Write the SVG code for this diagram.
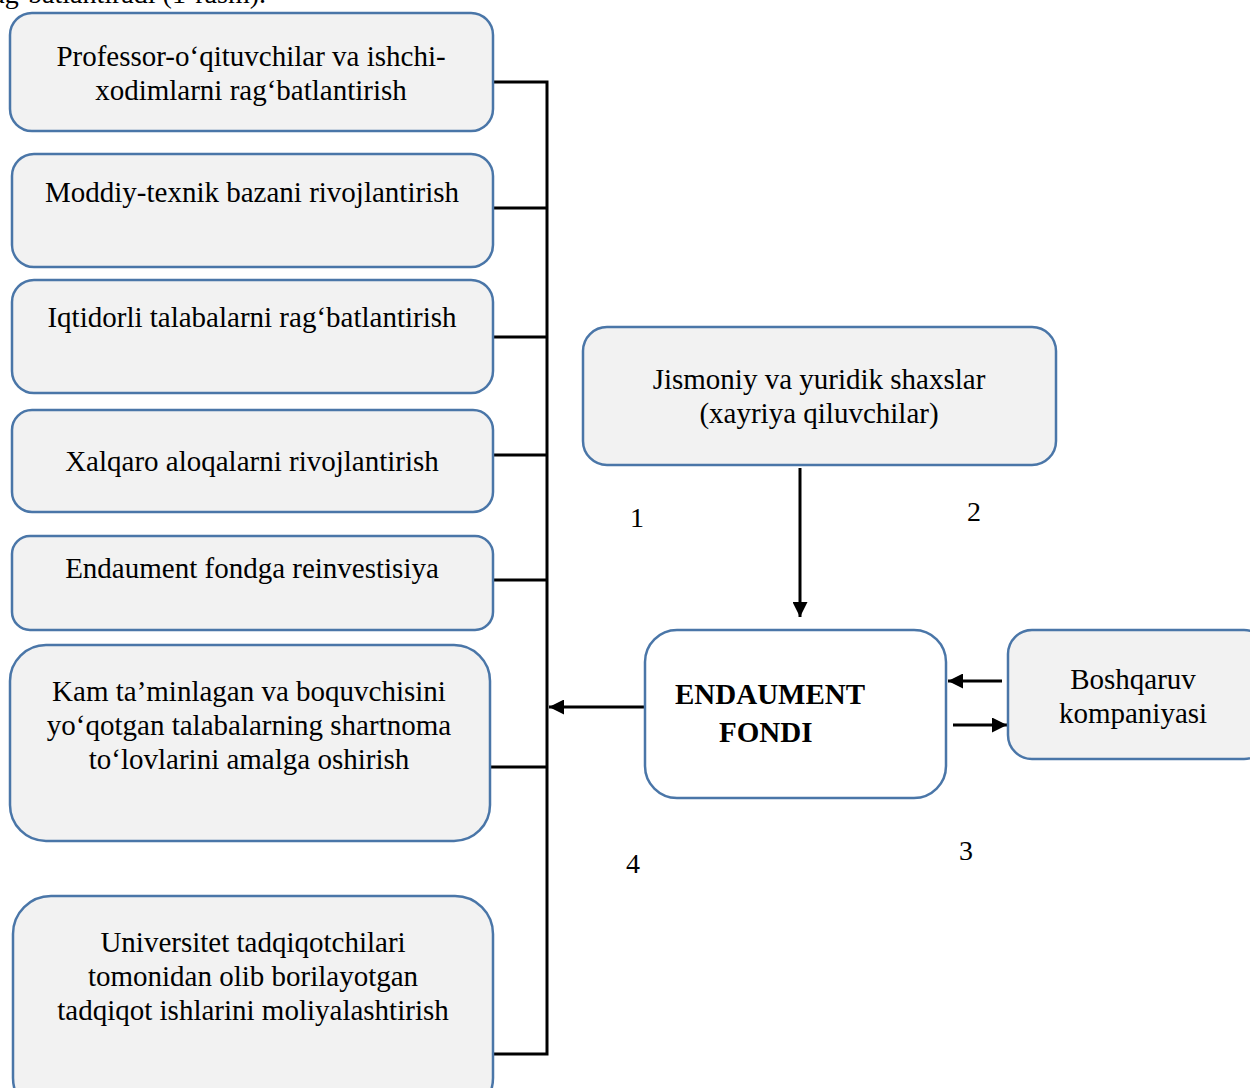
<svg xmlns="http://www.w3.org/2000/svg" width="1250" height="1088" viewBox="0 0 1250 1088">
<defs>
<style>
.box{fill:#f2f2f2;stroke:#4a76a8;stroke-width:2.5}
.main{fill:#ffffff;stroke:#4a76a8;stroke-width:2.5}
.t{font-family:"Liberation Serif","Times New Roman",serif;font-size:29px;fill:#000;text-anchor:middle}
.b{font-weight:bold;text-anchor:start}
.n{font-family:"Liberation Serif","Times New Roman",serif;font-size:28px;fill:#000}
.ln{stroke:#000;stroke-width:3;fill:none}
</style>
<marker id="ah" viewBox="0 0 10 10" refX="10" refY="5" markerWidth="5" markerHeight="5" orient="auto" markerUnits="strokeWidth">
<path d="M0,0 L10,5 L0,10 z" fill="#000"/>
</marker>
</defs>
<rect width="1250" height="1088" fill="#fff"/>
<text class="n" x="-17" y="3" font-size="29">rag‘batlantiradi (1-rasm).</text>

<g id="connectors">
<path class="ln" d="M493,82 H547 V1054 H493"/>
<path class="ln" d="M493,208 H547"/>
<path class="ln" d="M493,337 H547"/>
<path class="ln" d="M493,455 H547"/>
<path class="ln" d="M493,580 H547"/>
<path class="ln" d="M490,767 H547"/>
<path class="ln" d="M645,707 H549" marker-end="url(#ah)"/>
<path class="ln" d="M800,468 V617" marker-end="url(#ah)"/>
<path class="ln" d="M1002,681 H948" marker-end="url(#ah)"/>
<path class="ln" d="M953,725 H1007" marker-end="url(#ah)"/>
</g>

<g id="n1"><rect class="box" x="10" y="13" width="483" height="118" rx="22"/>
<text class="t" x="251" y="66">Professor-o‘qituvchilar va ishchi-</text>
<text class="t" x="251" y="100">xodimlarni rag‘batlantirish</text></g>

<g id="n2"><rect class="box" x="12" y="154" width="481" height="113" rx="22"/>
<text class="t" x="252" y="202">Moddiy-texnik bazani rivojlantirish</text></g>

<g id="n3"><rect class="box" x="12" y="280" width="481" height="113" rx="22"/>
<text class="t" x="252" y="327">Iqtidorli talabalarni rag‘batlantirish</text></g>

<g id="n4"><rect class="box" x="12" y="410" width="481" height="102" rx="20"/>
<text class="t" x="252" y="471">Xalqaro aloqalarni rivojlantirish</text></g>

<g id="n5"><rect class="box" x="12" y="536" width="481" height="94" rx="18"/>
<text class="t" x="252" y="578">Endaument fondga reinvestisiya</text></g>

<g id="n6"><rect class="box" x="10" y="645" width="480" height="196" rx="36"/>
<text class="t" x="249" y="701">Kam ta’minlagan va boquvchisini</text>
<text class="t" x="249" y="735">yo‘qotgan talabalarning shartnoma</text>
<text class="t" x="249" y="769">to‘lovlarini amalga oshirish</text></g>

<g id="n7"><rect class="box" x="13" y="896" width="480" height="220" rx="38"/>
<text class="t" x="253" y="952">Universitet tadqiqotchilari</text>
<text class="t" x="253" y="986">tomonidan olib borilayotgan</text>
<text class="t" x="253" y="1020">tadqiqot ishlarini moliyalashtirish</text></g>

<g id="n8"><rect class="box" x="583" y="327" width="473" height="138" rx="24"/>
<text class="t" x="819" y="389">Jismoniy va yuridik shaxslar</text>
<text class="t" x="819" y="423">(xayriya qiluvchilar)</text></g>

<g id="n9"><rect class="main" x="645" y="630" width="301" height="168" rx="32"/>
<text class="t b" x="675" y="704">ENDAUMENT</text>
<text class="t b" x="719" y="742">FONDI</text></g>

<g id="n10"><rect class="box" x="1008" y="630" width="260" height="129" rx="24"/>
<text class="t" x="1133" y="689">Boshqaruv</text>
<text class="t" x="1133" y="723">kompaniyasi</text></g>

<g id="labels">
<text class="n" x="630" y="527">1</text>
<text class="n" x="967" y="521">2</text>
<text class="n" x="959" y="860">3</text>
<text class="n" x="626" y="873">4</text>
</g>
</svg>
